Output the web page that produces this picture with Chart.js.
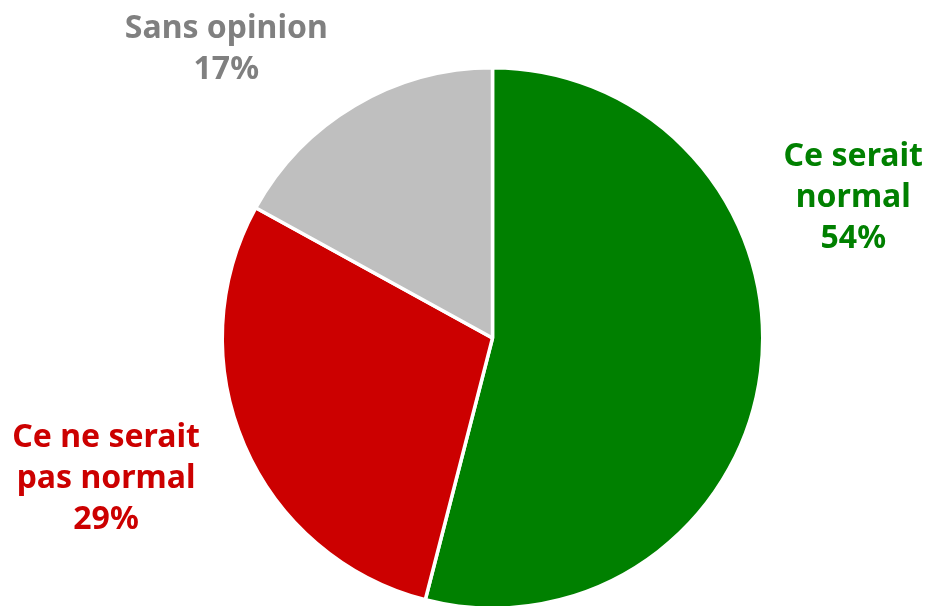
<!DOCTYPE html>
<html>
<head>
<meta charset="utf-8">
<script src="https://cdn.jsdelivr.net/npm/chart.js@4"></script>
<style>
    html, body { margin: 0; padding: 0; background: #fff; overflow: hidden; }
    #wrap { position: relative; width: 929px; height: 611px; }
</style>
</head>
<body>
<div id="wrap"><canvas id="pie"></canvas></div>
<script>
const categories = ['Ce serait normal', 'Ce ne serait pas normal', 'Sans opinion'];
const labelLines = [['Ce serait', 'normal'], ['Ce ne serait', 'pas normal'], ['Sans opinion']];
const shares = [54, 29, 17];
const sliceColors = ['#008000', '#CC0000', '#BFBFBF'];
const textColors = ['#008000', '#CC0000', '#808080'];


// labels placed outside, relative to pie centre, in units of radius
const outsideLabels = {
    id: 'outsideLabels',
    afterDraw(chart, args, opts) {
        const ctx = chart.ctx;
        const meta = chart.getDatasetMeta(0);
        ctx.save();
        ctx.font = 'bold 32px "Noto Sans"';
        ctx.textAlign = 'center';
        ctx.textBaseline = 'alphabetic';
        meta.data.forEach((arc, i) => {
            const r = arc.outerRadius;
            const cx = arc.x + opts.offsets[i][0] * r;
            const top = arc.y + opts.offsets[i][1] * r;
            const lines = labelLines[i].concat([shares[i] + '%']);
            ctx.fillStyle = textColors[i];
            lines.forEach((line, j) => {
                ctx.fillText(line, cx, top + j * 41);
            });
        });
        ctx.restore();
    }
};

new Chart(
    document.getElementById('pie'),
    {
        type: 'pie',
        data: {
            labels: categories,
            datasets: [
                {
                    data: shares,
                    backgroundColor: sliceColors,
                    borderColor: '#ffffff',
                    borderWidth: 3.5,
                }
            ]
        },
        options: {
            responsive: true,
            maintainAspectRatio: false,
            animation: false,
            layout: {
                padding: { left: 220, right: 164, top: 66, bottom: 1 }
            },
            plugins: {
                legend: { display: false },
                tooltip: { enabled: false },
                outsideLabels: {
                    offsets: [[1.335, -0.635], [-1.43, 0.405], [-0.985, -1.11]]
                }
            }
        },
        plugins: [outsideLabels]
    }
);
</script>
</body>
</html>
